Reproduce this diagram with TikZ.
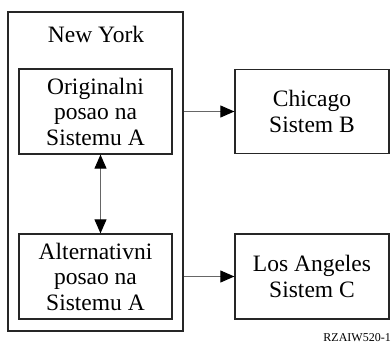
\documentclass[tikz,border=0pt]{standalone}
\usepackage{fontspec}
\setmainfont{Liberation Serif}
\usetikzlibrary{arrows.meta}
\begin{document}
\begin{tikzpicture}[x=1pt, y=-1pt,
    bigtri/.tip={Triangle[length=14pt, width=12pt, color=black]},
    sitebox/.style={draw=black!85, line width=1.3pt, align=center, inner sep=0pt,
        font=\fontsize{23.5}{25.5}\selectfont},
    link/.style={draw=black!60, line width=1pt}]
\useasboundingbox (0, 0) rectangle (391, 348);
% New York
\node[sitebox, minimum width=175, minimum height=319] (ny) at (95.5, 171.5) {};
\node[font=\fontsize{23.5}{25.5}\selectfont] (nyname) at (96, 34) {New York};
\node[sitebox, minimum width=153, minimum height=85] (orig) at (95.5, 111.5) {Originalni\\posao na\\Sistemu A};
\node[sitebox, minimum width=153, minimum height=85] (alt) at (95.5, 276.5) {Alternativni\\posao na\\Sistemu A};
\draw[link, bigtri-bigtri] ([xshift=5]orig.south) -- ([xshift=5]alt.north);

% Chicago, Los Angeles
\node[sitebox, minimum width=154, minimum height=84] (chi) at (312, 111.5) {Chicago\\Sistem B};
\node[sitebox, minimum width=154, minimum height=85] (la) at (312, 276.5) {Los Angeles\\Sistem C};
\draw[link, -bigtri] (orig.east -| ny.east) -- (chi.west);
\draw[link, -bigtri] (alt.east -| ny.east) -- (la.west);

\node[anchor=east, font=\fontsize{12}{14}\selectfont, inner sep=0pt] (fig) at (391, 338) {RZAIW520-1};
\end{tikzpicture}
\end{document}
